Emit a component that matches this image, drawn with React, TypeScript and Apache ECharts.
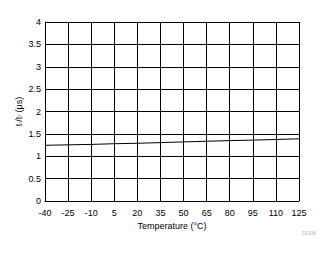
import React, { useEffect, useRef } from "react";
import * as echarts from "echarts";

const temperatures = ["-40", "-25", "-10", "5", "20", "35", "50", "65", "80", "95", "110", "125"];
const riseFallTime = [1.245, 1.255, 1.265, 1.28, 1.29, 1.305, 1.32, 1.335, 1.35, 1.36, 1.375, 1.39];
const yTicks = { min: 0, max: 4, interval: 0.5 };

export default function App() {
  const ref = useRef<HTMLDivElement>(null);
  useEffect(() => {
    if (!ref.current) return;
    const chart = echarts.init(ref.current, null, { renderer: "svg" });
    const font = "Liberation Sans, Arial, sans-serif";
    chart.setOption({
      animation: false,
      backgroundColor: "#fff",
      grid: { left: 45, top: 22, width: 254, height: 179, containLabel: false },
      xAxis: {
        type: "category",
        data: temperatures,
        boundaryGap: false,
        name: "Temperature (°C)",
        nameLocation: "middle",
        nameGap: 20,
        nameMoveOverlap: false,
        nameTextStyle: { fontSize: 9, color: "#000", fontFamily: font },
        axisLine: { lineStyle: { color: "#000", width: 1 } },
        axisTick: { show: false },
        axisLabel: { fontSize: 9, color: "#000", fontFamily: font, margin: 7, interval: 0 },
        splitLine: { show: true, interval: 0, lineStyle: { color: "#000", width: 1 } },
      },
      yAxis: {
        type: "value",
        min: yTicks.min,
        max: yTicks.max,
        interval: yTicks.interval,
        name: "t{s|r}/t{s|f} (μs)",
        nameLocation: "middle",
        nameRotate: 90,
        nameGap: 22,
        nameMoveOverlap: false,
        nameTextStyle: {
          fontSize: 9,
          color: "#000",
          fontFamily: font,
          rich: { s: { fontSize: 6, color: "#888", fontFamily: font, verticalAlign: "bottom" } },
        },
        axisLine: { show: true, lineStyle: { color: "#000", width: 1 } },
        axisTick: { show: false },
        axisLabel: { fontSize: 9, color: "#000", fontFamily: font, margin: 4 },
        splitLine: { show: true, lineStyle: { color: "#000", width: 1 } },
      },
      series: [
        {
          type: "line",
          data: riseFallTime,
          symbol: "none",
          lineStyle: { color: "#000", width: 1 },
        },
      ],
      graphic: [
        {
          type: "text",
          left: 302,
          top: 230,
          style: { text: "D008", fontSize: 6, fill: "#bbb", fontFamily: font },
        },
      ],
    });
    return () => chart.dispose();
  }, []);
  return (
    <div
      ref={ref}
      style={{ position: "fixed", left: 0, top: 0, width: 332, height: 254 }}
    />
  );
}
